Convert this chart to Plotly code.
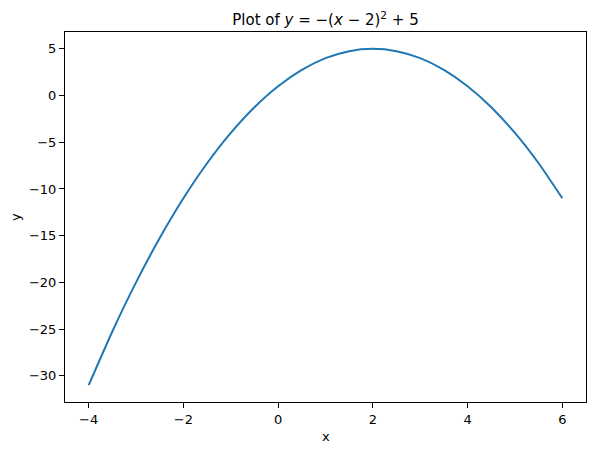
import plotly.graph_objects as go

# values
x_vals = [-4, -3.5, -3, -2.5, -2, -1.5, -1, -0.5, 0, 0.5, 1, 1.5, 2, 2.5, 3, 3.5, 4, 4.5, 5, 5.5, 6]
y_vals = [-31, -25.25, -20, -15.25, -11, -7.25, -4, -1.25, 1, 2.75, 4, 4.75, 5, 4.75, 4, 2.75, 1, -1.25, -4, -7.25, -11]

x_ticks = [-4, -2, 0, 2, 4, 6]
x_tick_text = ["\u22124", "\u22122", "0", "2", "4", "6"]
y_ticks = [-30, -25, -20, -15, -10, -5, 0, 5]
y_tick_text = ["\u221230", "\u221225", "\u221220", "\u221215", "\u221210", "\u22125", "0", "5"]

title_text = "Plot of <i>y</i> = \u2212(<i>x</i> \u2212 2)<sup>2</sup> + 5"

W, H = 595, 453
fig = go.Figure()
fig.add_trace(go.Scatter(x=x_vals, y=y_vals, mode="lines",
                         line=dict(color="#1f77b4", width=2, shape="spline", smoothing=0.6),
                         showlegend=False, hoverinfo="skip"))

axis_common = dict(showline=True, mirror=True, linecolor="black", linewidth=1,
                   ticks="outside", ticklen=5, tickwidth=1, tickcolor="black",
                   showgrid=False, zeroline=False, automargin=False,
                   tickfont=dict(family="DejaVu Sans", size=13, color="black"))

fig.update_layout(
    width=W, height=H,
    margin=dict(l=57, r=17, t=24, b=59, autoexpand=False),
    paper_bgcolor="white", plot_bgcolor="white",
    font=dict(family="DejaVu Sans", color="black"),
    title=dict(text=title_text, x=317.5 / W, xanchor="center",
               y=1 - 12 / H, yanchor="middle", yref="container", automargin=False,
               font=dict(family="DejaVu Sans", size=15, color="black")),
    xaxis=dict(range=[-4.5, 6.5], tickvals=x_ticks, ticktext=x_tick_text, **axis_common),
    yaxis=dict(range=[-32.8, 6.8], tickvals=y_ticks, ticktext=y_tick_text, **axis_common),
    annotations=[
        dict(text="x", xref="paper", yref="paper", x=0.5, y=-(429 - (H - 59)) / (H - 24 - 59),
             xanchor="center", yanchor="middle", showarrow=False,
             font=dict(family="DejaVu Sans", size=13, color="black")),
        dict(text="y", xref="paper", yref="paper", x=-(57 - 7) / (W - 57 - 17), y=0.5,
             xanchor="center", yanchor="middle", showarrow=False, textangle=-90,
             font=dict(family="DejaVu Sans", size=13, color="black")),
    ],
)

fig.write_html("out.html")
